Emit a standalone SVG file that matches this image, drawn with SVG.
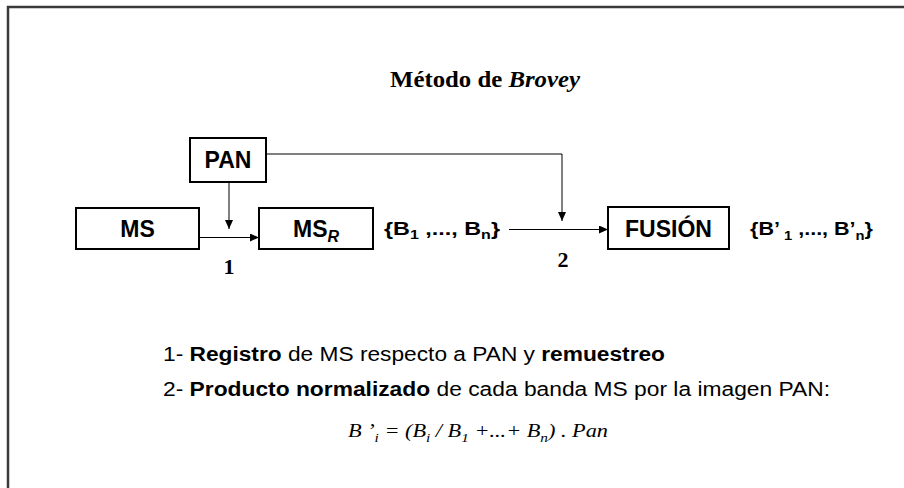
<svg xmlns="http://www.w3.org/2000/svg" width="904" height="488" viewBox="0 0 904 488">
<style>
.box{fill:#fff;stroke:#000;stroke-width:2}
.lbl{font-family:"Liberation Sans",Arial,sans-serif;font-weight:bold;font-size:23px;fill:#000;text-anchor:middle}
.set{font-family:"Liberation Sans",Arial,sans-serif;font-weight:bold;font-size:19px;fill:#000}
.num{font-family:"Liberation Serif","Times New Roman",serif;font-weight:bold;font-size:22px;fill:#000;text-anchor:middle}
.txt{font-family:"Liberation Sans",Arial,sans-serif;font-size:20px;fill:#000}
.eq{font-family:"Liberation Serif","Times New Roman",serif;font-style:italic;font-size:19px;fill:#000}
.ttl{font-family:"Liberation Serif","Times New Roman",serif;font-weight:bold;font-size:23px;fill:#000}
.con{fill:none;stroke:#000;stroke-width:1}
</style>
<defs>
<marker id="ah" markerWidth="10" markerHeight="8" refX="9" refY="4" orient="auto" markerUnits="userSpaceOnUse">
<path d="M0,0 L9,4 L0,8 Z" fill="#000"/>
</marker>
</defs>
<rect x="8" y="7" width="910" height="500" fill="#fff" stroke="#3a3a3a" stroke-width="2.5"/>
<text class="ttl" x="390" y="87" textLength="190" lengthAdjust="spacingAndGlyphs">Método de <tspan font-style="italic">Brovey</tspan></text>
<g id="connectors">
<line class="con" x1="229" y1="182" x2="229" y2="229" marker-end="url(#ah)"/>
<line class="con" x1="199" y1="237.5" x2="259" y2="237.5" marker-end="url(#ah)"/>
<polyline class="con" points="266,154 562,154 562,221" marker-end="url(#ah)"/>
<line class="con" x1="509" y1="229.5" x2="608" y2="229.5" marker-end="url(#ah)"/>
</g>
<g id="pan">
<rect class="box" x="190" y="138" width="76" height="44"/>
<text class="lbl" x="228" y="168">PAN</text>
</g>
<g id="ms">
<rect class="box" x="76" y="208" width="123" height="41"/>
<text class="lbl" x="137.5" y="237">MS</text>
</g>
<g id="msr">
<rect class="box" x="259" y="208" width="114" height="41"/>
<text class="lbl" x="316" y="237">MS<tspan font-style="italic" font-size="16" dy="5">R</tspan></text>
</g>
<g id="fusion">
<rect class="box" x="608" y="207" width="121" height="42"/>
<text class="lbl" x="668.5" y="236.5">FUSIÓN</text>
</g>
<g id="set1">
<text class="set" x="384" y="235" textLength="116" lengthAdjust="spacingAndGlyphs">{B<tspan font-size="13" dy="4">1</tspan><tspan dy="-4"> ,..., B</tspan><tspan font-size="13" dy="4">n</tspan><tspan dy="-4">}</tspan></text>
</g>
<g id="set2">
<text class="set" x="750" y="235" textLength="123" lengthAdjust="spacingAndGlyphs">{B’<tspan font-size="13" dy="5"> 1</tspan><tspan dy="-5"> ,..., B’</tspan><tspan font-size="13" dy="5">n</tspan><tspan dy="-5">}</tspan></text>
</g>
<text class="num" x="229" y="274">1</text>
<text class="num" x="563" y="267">2</text>
<text class="txt" x="163" y="361" textLength="502" lengthAdjust="spacingAndGlyphs">1- <tspan font-weight="bold">Registro</tspan> de MS respecto a PAN y <tspan font-weight="bold">remuestreo</tspan></text>
<text class="txt" x="163" y="396" textLength="667" lengthAdjust="spacingAndGlyphs">2- <tspan font-weight="bold">Producto normalizado</tspan> de cada banda MS por la imagen PAN:</text>
<text class="eq" x="348" y="437" textLength="260" lengthAdjust="spacingAndGlyphs">B ’<tspan font-size="13" dy="5">i</tspan><tspan dy="-5"> = (B</tspan><tspan font-size="13" dy="5">i</tspan><tspan dy="-5"> / B</tspan><tspan font-size="13" dy="5">1</tspan><tspan dy="-5"> +...+ B</tspan><tspan font-size="13" dy="5">n</tspan><tspan dy="-5">) . Pan</tspan></text>
</svg>
